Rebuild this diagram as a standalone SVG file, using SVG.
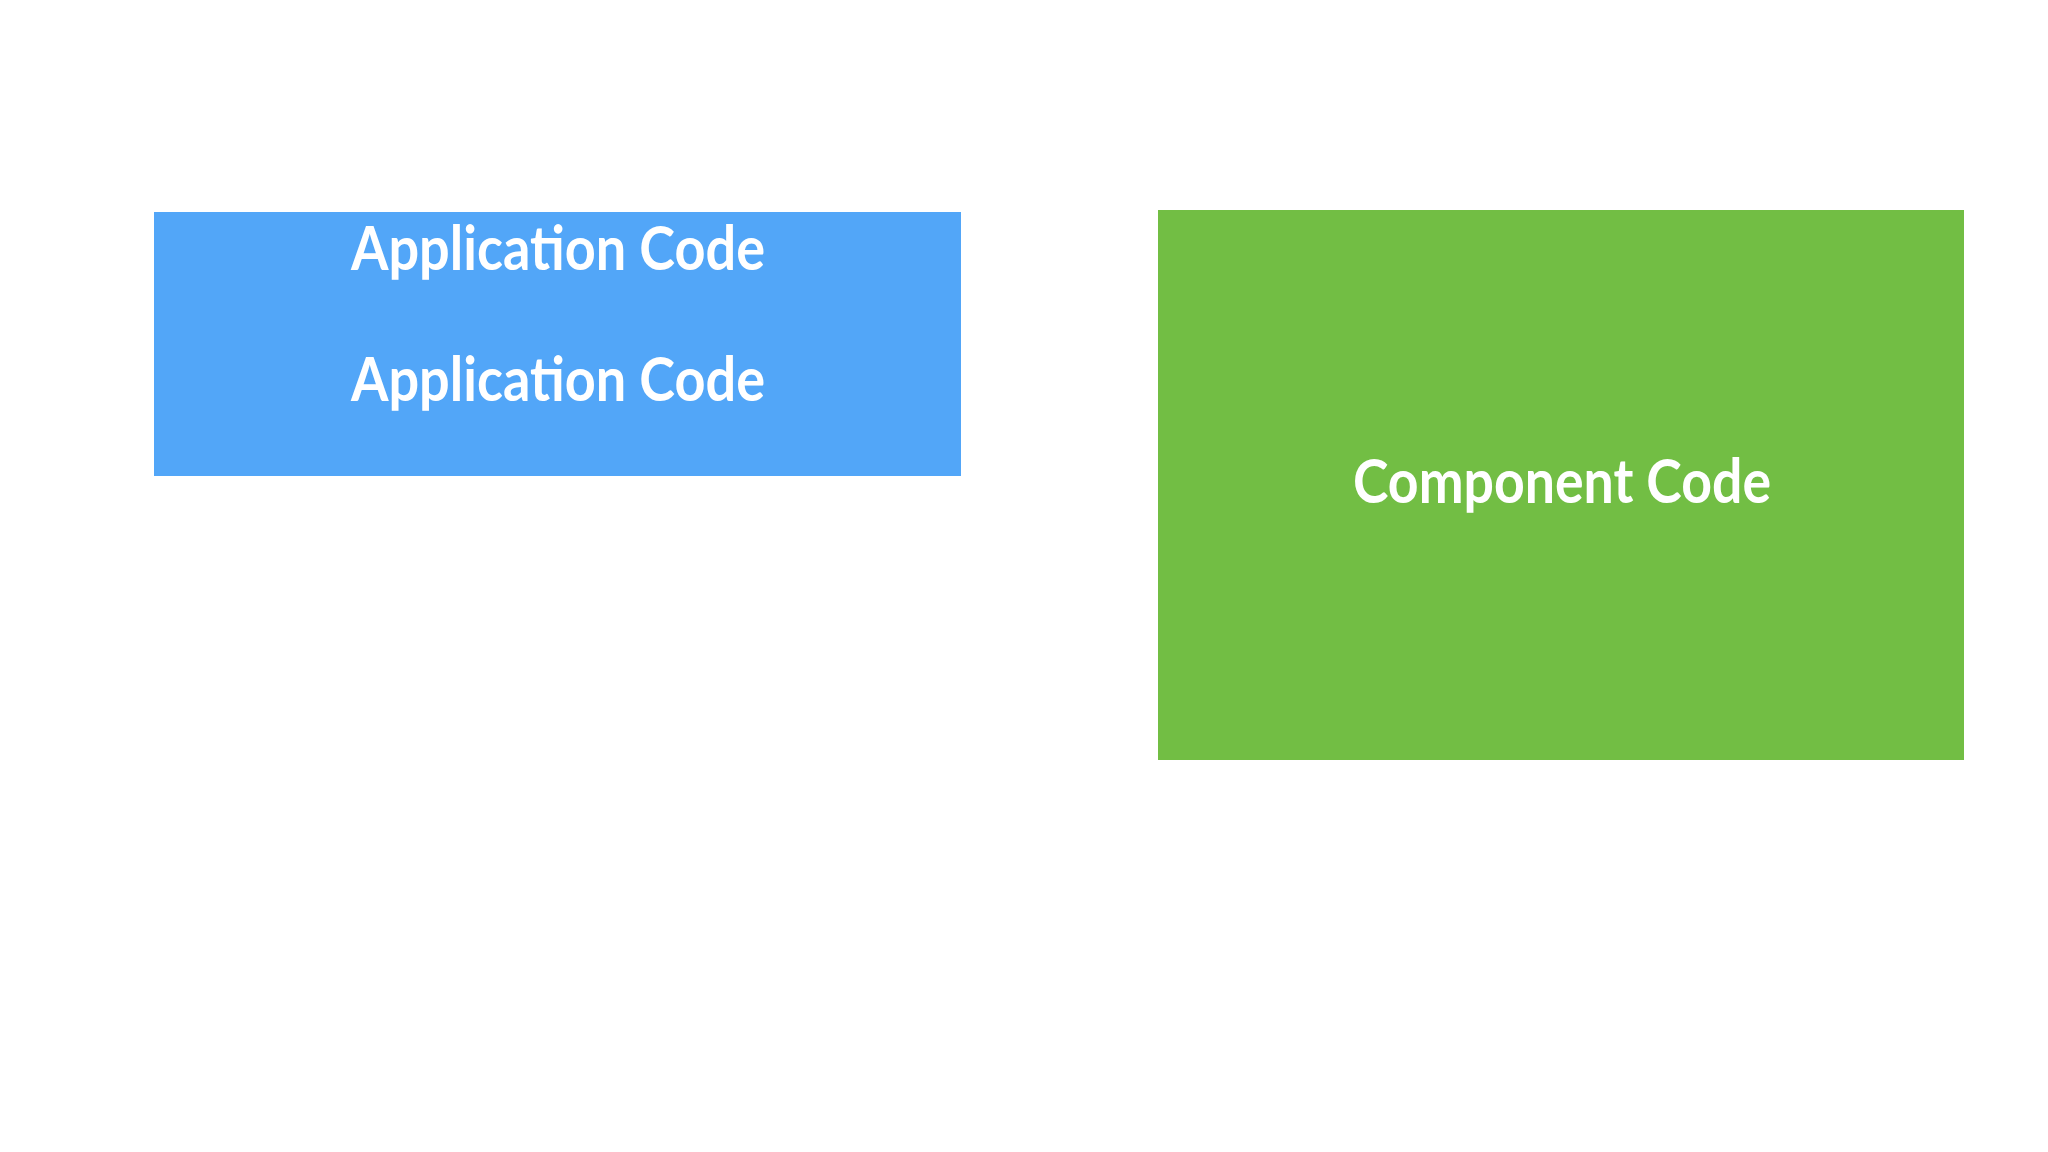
<svg xmlns="http://www.w3.org/2000/svg" width="2048" height="1152" viewBox="0 0 2048 1152">
<style>
.lbl{font-family:"Lato","Liberation Sans",sans-serif;font-size:62px;font-weight:700;fill:#ffffff;text-anchor:middle}
</style>
<rect width="2048" height="1152" fill="#ffffff"/>
<g id="application">
<rect x="154" y="212" width="807" height="264" fill="#52A6F8"/>
<text class="lbl" x="558" y="270" textLength="414" lengthAdjust="spacingAndGlyphs">Application Code</text>
<text class="lbl" x="558" y="401" textLength="414" lengthAdjust="spacingAndGlyphs">Application Code</text>
</g>
<g id="component">
<rect x="1158" y="210" width="806" height="550" fill="#72BE44"/>
<text class="lbl" x="1562" y="503" textLength="418" lengthAdjust="spacingAndGlyphs">Component Code</text>
</g>
<g id="connectors"></g>
</svg>
